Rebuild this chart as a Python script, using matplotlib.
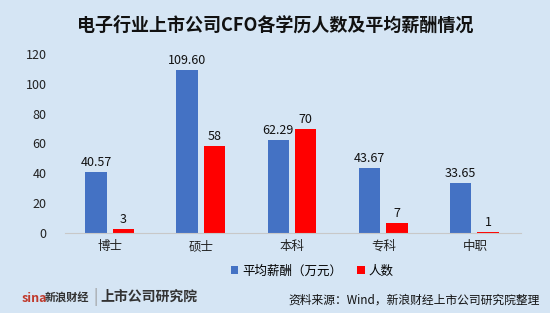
import matplotlib
matplotlib.use("Agg")
import matplotlib.pyplot as plt
import numpy as np

plt.rcParams['font.family'] = ['Noto Sans CJK SC', 'DejaVu Sans']

categories = ["博士", "硕士", "本科", "专科", "中职"]
salary = [40.57, 109.60, 62.29, 43.67, 33.65]
count = [3, 58, 70, 7, 1]
salary_labels = ["40.57", "109.60", "62.29", "43.67", "33.65"]
count_labels = ["3", "58", "70", "7", "1"]
yticks = [0, 20, 40, 60, 80, 100, 120]

bg = "#d5e5f4"
blue = "#4472c4"
red = "#ff0000"

fig = plt.figure(figsize=(5.5, 3.13), dpi=100, facecolor=bg)
ax = fig.add_axes([64.5/550, 1-233/313, (520.5-64.5)/550, (233-54)/313])
ax.set_facecolor(bg)

x = np.arange(len(categories))
w = 0.235
b1 = ax.bar(x - 0.155, salary, w, color=blue, label="平均薪酬（万元）")
b2 = ax.bar(x + 0.145, count, w, color=red, label="人数")

for xi, v, s in zip(x, salary, salary_labels):
    ax.text(xi - 0.155, v + 2, s, ha="center", va="bottom", fontsize=9, color="#111111")
for xi, v, s in zip(x, count, count_labels):
    ax.text(xi + 0.145, v + 2, s, ha="center", va="bottom", fontsize=9, color="#111111")

ax.set_xlim(-0.5, len(categories) - 0.5)
ax.set_ylim(0, 120)
ax.set_yticks(yticks)
ax.set_xticks(x)
ax.set_xticklabels(categories)
ax.tick_params(axis="both", length=0, labelsize=9, colors="#222222")
ax.tick_params(axis="y", pad=13)
ax.tick_params(axis="x", pad=5)
for s in ["top", "right", "left"]:
    ax.spines[s].set_visible(False)
ax.spines["bottom"].set_color("#c8c8c8")
ax.spines["bottom"].set_linewidth(0.8)

fig.text(0.5, 1 - 25/313, "电子行业上市公司CFO各学历人数及平均薪酬情况", ha="center", va="center",
         fontsize=13, fontweight="bold", color="#111111")

leg = fig.legend(handles=[b1, b2], loc="center", bbox_to_anchor=(312/550, 1 - 271/313), ncol=2,
                 frameon=False, fontsize=9, handlelength=0.6, handleheight=0.6,
                 columnspacing=1.2, handletextpad=0.3)

fig.text(540/550, 1 - 300/313, "资料来源：Wind，新浪财经上市公司研究院整理", ha="right", va="center",
         fontsize=8.5, color="#111111")

fig.text(22/550, 1 - 299/313, "sina", ha="left", va="center", fontsize=9, fontweight="bold",
         style="italic", color="#c0392b")
fig.text(45/550, 1 - 297/313, "新浪财经", ha="left", va="center", fontsize=8, fontweight="bold", color="#333333")
fig.text(93/550, 1 - 297/313, "|", ha="left", va="center", fontsize=11, color="#999999")
fig.text(100/550, 1 - 297/313, "上市公司研究院", ha="left", va="center", fontsize=10, fontweight="bold",
         style="italic", color="#333333")

fig.savefig("out.png", dpi=100, facecolor=bg)
